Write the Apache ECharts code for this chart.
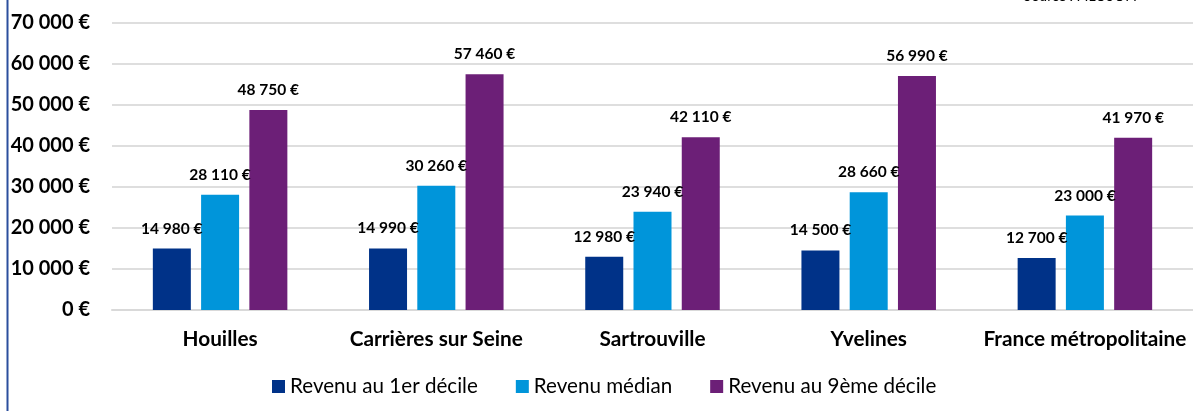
<!DOCTYPE html>
<html>
<head>
<meta charset="utf-8">
<script src="https://cdn.jsdelivr.net/npm/echarts@6/dist/echarts.min.js"></script>
<style>
  html, body { margin: 0; padding: 0; background: #ffffff; }
  #chart { width: 1193px; height: 411px; }
</style>
</head>
<body>
<div id="chart"></div>
<script>
// Income distribution by territory (euros per year)
const categories = ['Houilles', 'Carrières sur Seine', 'Sartrouville', 'Yvelines', 'France métropolitaine'];
const firstDecile = [14980, 14990, 12980, 14500, 12700];
const medianIncome = [28110, 30260, 23940, 28660, 23000];
const ninthDecile = [48750, 57460, 42110, 56990, 41970];
const seriesNames = ['Revenu au 1er décile', 'Revenu médian', 'Revenu au 9ème décile'];
const yTicks = { min: 0, max: 70000, step: 10000 };
const sourceText = 'Source : FILOSOFI';

const FONT = 'Lato, "Liberation Sans", sans-serif';
const COLORS = ['#003288', '#0095DA', '#6C1F77'];

function euro(v) {
  return String(Math.round(v)).replace(/\B(?=(\d{3})+(?!\d))/g, ' ') + ' €';
}

function barSeries(name, data, color) {
  return {
    name: name,
    type: 'bar',
    data: data,
    barWidth: 38,
    barGap: '27%',
    itemStyle: { color: color },
    label: {
      show: true,
      position: 'top',
      distance: 12,
      formatter: p => euro(p.value),
      color: '#000000',
      fontFamily: FONT,
      fontWeight: 'bold',
      fontSize: 15.5
    }
  };
}

const chart = echarts.init(document.getElementById('chart'), null, { renderer: 'canvas' });
chart.setOption({
  animation: false,
  backgroundColor: '#ffffff',
  color: COLORS,
  grid: { left: 112, right: 0, top: 22.7, bottom: 101, containLabel: false },
  legend: {
    left: 267,
    top: 371,
    itemWidth: 13,
    itemHeight: 13,
    itemGap: 38,
    icon: 'rect',
    textStyle: { fontFamily: FONT, fontSize: 20.6, color: '#000000' },
    data: seriesNames
  },
  xAxis: {
    type: 'category',
    data: categories,
    axisLine: { show: true, lineStyle: { color: '#d9d9d9', width: 2 } },
    axisTick: { show: false },
    axisLabel: {
      margin: 19,
      color: '#000000',
      fontFamily: FONT,
      fontWeight: 'bold',
      fontSize: 20.8,
      interval: 0
    }
  },
  yAxis: {
    type: 'value',
    min: yTicks.min,
    max: yTicks.max,
    interval: yTicks.step,
    axisLine: { show: false },
    axisTick: { show: false },
    splitLine: { lineStyle: { color: '#dedede', width: 2 } },
    axisLabel: {
      margin: 22,
      formatter: v => euro(v),
      color: '#000000',
      fontFamily: FONT,
      fontWeight: 'bold',
      fontSize: 20
    }
  },
  graphic: [
    {
      type: 'rect',
      left: 6.5,
      top: 0,
      shape: { width: 2, height: 411 },
      style: { fill: '#2B4E9D' },
      silent: true
    },
    {
      type: 'text',
      x: 1137,
      y: 3,
      style: {
        text: sourceText,
        font: '14px ' + FONT,
        fill: '#000000',
        align: 'right',
        verticalAlign: 'bottom'
      },
      silent: true
    }
  ],
  series: [
    barSeries(seriesNames[0], firstDecile, COLORS[0]),
    barSeries(seriesNames[1], medianIncome, COLORS[1]),
    barSeries(seriesNames[2], ninthDecile, COLORS[2])
  ]
});
</script>
</body>
</html>
